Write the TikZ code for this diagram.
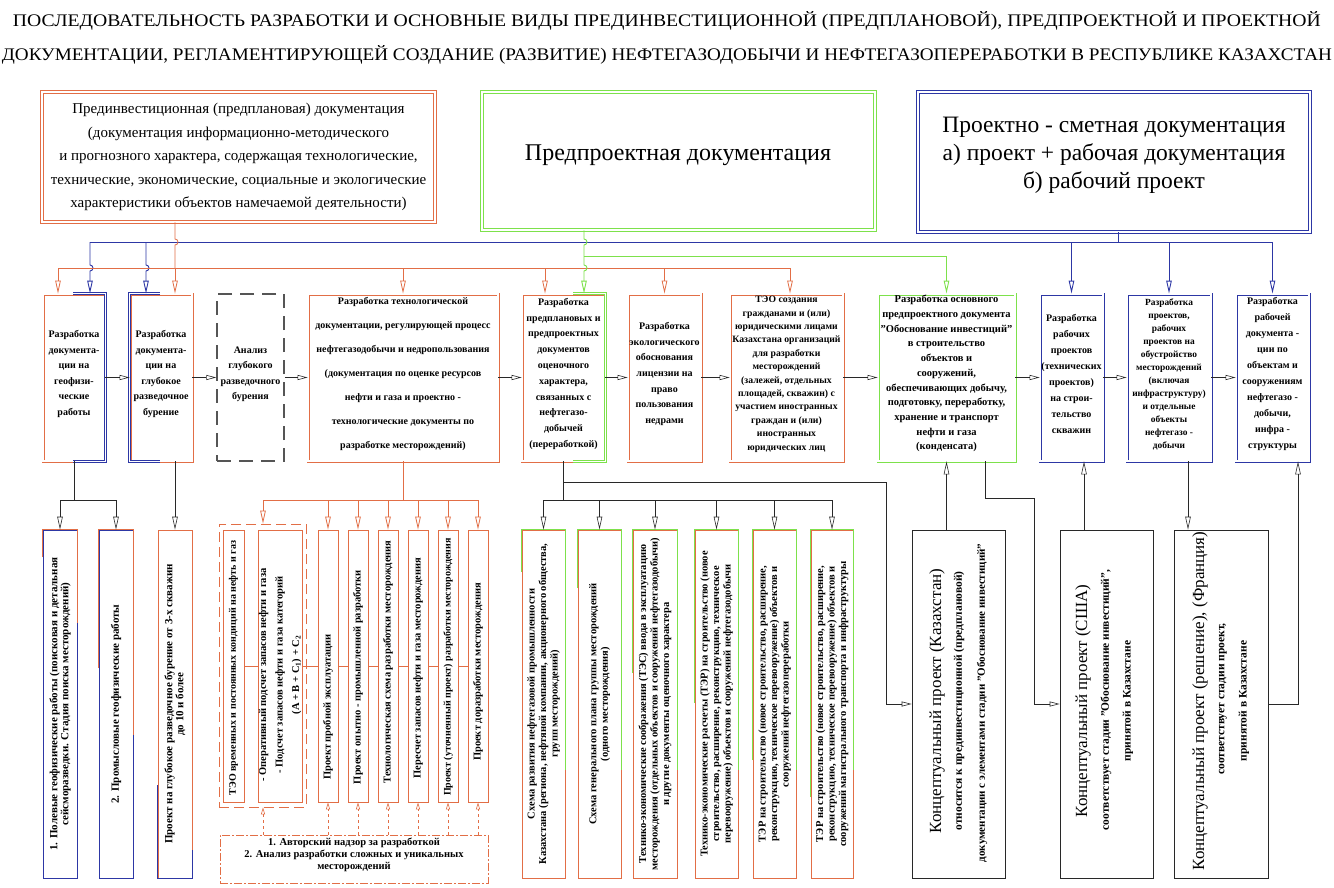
\documentclass[tikz,border=0pt]{standalone}
\usepackage{graphicx}
\usepackage{fontspec}
\setmainfont{Liberation Serif}
\usetikzlibrary{arrows.meta,fit,calc}
\definecolor{cor}{RGB}{226,110,70}
\definecolor{cbl}{RGB}{45,55,165}
\definecolor{cgr}{RGB}{125,225,75}
\definecolor{cgy}{RGB}{85,85,85}
\definecolor{cln}{RGB}{40,40,40}
\begin{document}
\begin{tikzpicture}[x=1pt,y=-1pt,
 dbl/.style={draw=#1, double=white, double distance=1.4pt, line width=0.8pt},
 bigdbl/.style={draw=#1, double=white, double distance=2.2pt, line width=0.8pt},
 rowbox/.style={inner sep=0pt, fill=white, align=center, font=\fontsize{10}{#1}\selectfont\bfseries},
 rowbox/.default=15,
 thinbox/.style={draw=#1, line width=0.7pt, inner sep=0pt, fill=white},
 vtxt/.style={rotate=90, align=center, font=\fontsize{10.5}{#1}\selectfont\bfseries, inner sep=0pt},
 vtxt/.default=12,
 ctxt/.style={rotate=90, align=center, font=\fontsize{10}{12}\selectfont\bfseries, inner sep=0pt},
 btxt/.style={rotate=90, align=center, font=\fontsize{11}{11}\selectfont\bfseries, inner sep=0pt},
 dtxt/.style={rotate=90, align=center, font=\fontsize{10.5}{11.5}\selectfont\bfseries, inner sep=0pt},
 htxt/.style={align=center, inner sep=0pt},
 tip/.style={-{Triangle[open,length=13pt,width=5.5pt]}},
 tips/.style={-{Triangle[open,length=10pt,width=5pt]}},
 tipx/.style={-{Triangle[open,length=7pt,width=4pt]}},
 conn/.style={draw=cln, line width=0.6pt},
 ocon/.style={draw=cor, line width=0.8pt},
 bcon/.style={draw=cbl, line width=0.9pt},
 gcon/.style={draw=cgr, line width=0.9pt},
 bigtx/.style={rotate=90, inner sep=0pt, font=\fontsize{17}{20}\selectfont},
 smtx/.style={rotate=90, inner sep=0pt, font=\fontsize{11.5}{13}\selectfont\bfseries},
]
\fill[white] (0,0) rectangle (1334,888);
\useasboundingbox (0,0) rectangle (1334,888);

% ---------- title
\node[htxt] (t1) at (667,21) {\resizebox{1308pt}{15pt}{ПОСЛЕДОВАТЕЛЬНОСТЬ РАЗРАБОТКИ И ОСНОВНЫЕ ВИДЫ ПРЕДИНВЕСТИЦИОННОЙ (ПРЕДПЛАНОВОЙ), ПРЕДПРОЕКТНОЙ И ПРОЕКТНОЙ}};
\node[htxt] (t2) at (667,55) {\resizebox{1330pt}{15pt}{ДОКУМЕНТАЦИИ, РЕГЛАМЕНТИРУЮЩЕЙ СОЗДАНИЕ (РАЗВИТИЕ) НЕФТЕГАЗОДОБЫЧИ И НЕФТЕГАЗОПЕРЕРАБОТКИ В РЕСПУБЛИКЕ КАЗАХСТАН}};

% ---------- top boxes
\node[bigdbl=cor, inner sep=0pt, fit={(42,92)(435,222)}] (A) {};
\node[htxt, font=\fontsize{15}{23.5}\selectfont] (Atx) at (A.center) {Прединвестиционная (предплановая) документация\\(документация информационно-методического\\и прогнозного характера, содержащая технологические,\\технические, экономические, социальные и экологические\\характеристики объектов намечаемой деятельности)};
\node[bigdbl=cgr, inner sep=0pt, fit={(482,92)(875,230)}] (G) {};
\node[htxt, font=\fontsize{24}{28}\selectfont] (Gtx) at (678,155) {Предпроектная документация};
\node[bigdbl=cbl, inner sep=0pt, fit={(918,92)(1310,232)}] (Bl) {};
\node[htxt, font=\fontsize{23.5}{28}\selectfont] (Bltx) at (1114,155) {Проектно - сметная документация\\а) проект + рабочая документация\\б) рабочий проект};

% ---------- row boxes
\node[rowbox=15.5, dbl=cor, fit={(43,294)(105,461)}] (r1) {Разработка\\документа-\\ции на\\геофизи-\\ческие\\работы};
\draw[dbl=cbl] (73,0 |- r1.north) -- (r1.north east) -- (r1.south east) -- (73,0 |- r1.south);
\node[rowbox=15.5, dbl=cor, fit={(130,294)(192,461)}] (r2) {Разработка\\документа-\\ции на\\глубокое\\разведочное\\бурение};
\draw[dbl=cbl] (160,0 |- r2.north) -- (r2.north west) -- (r2.south west) -- (160,0 |- r2.south);
\node[rowbox=15.3, draw=cgy, line width=1.5pt, dash pattern=on 14pt off 8pt, fit={(217,294)(284,461)}] (r3) {Анализ\\глубокого\\разведочного\\бурения};
\node[rowbox=24, dbl=cor, fit={(308,294)(498,461)}] (r4) {Разработка технологической\\документации, регулирующей процесс\\нефтегазодобычи и недропользования\\(документация по оценке ресурсов\\нефти и газа и проектно -\\технологические документы по\\разработке месторождений)};
\node[rowbox=15.8, dbl=cor, fit={(522,294)(605,461)}] (r5) {Разработка\\предплановых и\\предпроектных\\документов\\оценочного\\характера,\\связанных с\\нефтегазо-\\добычей\\(переработкой)};
\draw[dbl=cgr] (573,0 |- r5.north) -- (r5.north east) -- (r5.south east) -- (573,0 |- r5.south);
\node[rowbox=15.7, dbl=cor, fit={(628,294)(701,461)}] (r6) {Разработка\\экологического\\обоснования\\лицензии на\\право\\пользования\\недрами};
\node[rowbox=13.4, dbl=cor, font=\fontsize{9.7}{13.4}\selectfont\bfseries, fit={(730,294)(843,461)}] (r7) {ТЭО создания\\гражданами и (или)\\юридическими лицами\\Казахстана организаций\\для разработки\\месторождений\\(залежей, отдельных\\площадей, скважин) с\\участием иностранных\\граждан и (или)\\иностранных\\юридических лиц};
\node[rowbox=14.7, dbl=cgr, font=\fontsize{10.5}{14.7}\selectfont\bfseries, fit={(878,294)(1015,461)}] (r8) {Разработка основного\\предпроектного документа\\"Обоснование инвестиций"\\в строительство\\объектов и\\сооружений,\\обеспечивающих добычу,\\подготовку, переработку,\\хранение и транспорт\\нефти и газа\\(конденсата)};
\node[rowbox=16, dbl=cbl, fit={(1040,294)(1103,461)}] (r9) {Разработка\\рабочих\\проектов\\(технических\\проектов)\\на строи-\\тельство\\скважин};
\node[rowbox=13, dbl=cbl, font=\fontsize{9.4}{13}\selectfont\bfseries, fit={(1127,294)(1211,461)}] (r10) {Разработка\\проектов,\\рабочих\\проектов на\\обустройство\\месторождений\\(включая\\инфраструктуру)\\и отдельные\\объекты\\нефтегазо -\\добычи};
\node[rowbox=16, dbl=cbl, fit={(1236,294)(1309,461)}] (r11) {Разработка\\рабочей\\документа -\\ции по\\объектам и\\сооружениям\\нефтегазо -\\добычи,\\инфра -\\структуры};

\foreach \a/\b in {r1/r2,r2/r3,r3/r4,r4/r5,r5/r6,r6/r7,r7/r8,r8/r9,r9/r10,r10/r11}
  \draw[conn, tips] (\a.east) -- (\b.west);

% ---------- top connectors
% blue
\draw[bcon] (Bl.south -| 1118,0) -- (1118,242);
\draw[bcon] (90,242) -- (r11.north |- 0,242);
\draw[bcon, tip] (90,242) -- (90,265) arc[start angle=90,end angle=-90,radius=3pt] -- (90,0 |- r1.north);
\draw[bcon, tip] (146,242) -- (146,265) arc[start angle=90,end angle=-90,radius=3pt] -- (146,0 |- r2.north);
\draw[bcon, tip] (r9.north |- 0,242) -- (r9.north);
\draw[bcon, tip] (r10.north |- 0,242) -- (r10.north);
\draw[bcon, tip] (r11.north |- 0,242) -- (r11.north);
% orange
\draw[ocon] (A.south -| 175,0) -- (175,239) arc[start angle=90,end angle=-90,radius=3pt] -- (175,268);
\draw[ocon] (58,268) -- (790,268);
\draw[ocon, tip] (58,268) -- (58,0 |- r1.north);
\draw[ocon, tip] (175,268) -- (175,0 |- r2.north);
\draw[ocon, tip] (r4.north |- 0,268) -- (r4.north);
\draw[ocon, tip] (545,268) -- (545,0 |- r5.north);
\draw[ocon, tip] (r6.north |- 0,268) -- (r6.north);
\draw[ocon, tip] (790,268) -- (790,0 |- r7.north);
% green
\draw[gcon] (G.south -| 584,0) -- (584,239) arc[start angle=90,end angle=-90,radius=3pt] -- (584,256);
\draw[gcon] (584,256) -- (r8.north |- 0,256);
\draw[gcon, tip] (584,256) -- (584,265) arc[start angle=90,end angle=-90,radius=3pt] -- (584,0 |- r5.north);
\draw[gcon, tip] (r8.north |- 0,256) -- (r8.north);

% ---------- group b
\node[thinbox=cbl, fit={(43,530)(77,878)}] (b1) {};
\draw[cor, line width=0.7pt] (b1.west |- 0,557) -- (b1.north west) -- (b1.north east) -- (b1.east |- 0,623);
\node[thinbox=cbl, fit={(99,530)(133,878)}] (b2) {};
\draw[cor, line width=0.7pt] (b2.west |- 0,668) -- (b2.north west) -- (b2.north east) -- (b2.east |- 0,735);
\node[thinbox=cor, fit={(158,530)(192,878)}] (b3) {};
\draw[cbl, line width=0.7pt] (b3.west |- 0,785) -- (b3.south west) -- (b3.south east) -- (b3.east |- 0,850);
\node[btxt] (tb1) at (b1.center) {1. Полевые геофизические работы (поисковая и детальная\\сейсморазведки. Стадия поиска месторождений)};
\node[btxt] (tb2) at (b2.center) {2. Промысловые геофизические работы};
\node[btxt] (tb3) at (b3.center) {Проект на глубокое разведочное бурение от 3-х скважин\\до 10 и более};
\draw[conn] (r1.south) -- (r1.south |- 0,500);
\draw[conn] (b1.north |- 0,500) -- (b2.north |- 0,500);
\draw[conn, tip] (b1.north |- 0,500) -- (b1.north);
\draw[conn, tip] (b2.north |- 0,500) -- (b2.north);
\draw[conn, tip] (b3.north |- r2.south) -- (b3.north);

% ---------- group c
\node[draw=cor, line width=0.7pt, dash pattern=on 10pt off 5pt, inner sep=0pt, fit={(219,524)(306,807)}] (cg) {};
\node[thinbox=cor, fit={(223,530)(244,802)}] (c1) {};
\node[thinbox=cor, fit={(258,530)(302,802)}] (c2) {};
\node[thinbox=cor, fit={(318,530)(338,802)}] (c3) {};
\node[thinbox=cor, fit={(348,530)(368,802)}] (c4) {};
\node[thinbox=cor, fit={(378,530)(398,802)}] (c5) {};
\node[thinbox=cor, fit={(408,530)(428,802)}] (c6) {};
\node[thinbox=cor, fit={(438,530)(458,802)}] (c7) {};
\node[thinbox=cor, fit={(468,530)(488,802)}] (c8) {};
\foreach \a/\b in {c1/c2,c2/c3,c3/c4,c4/c5,c5/c6,c6/c7,c7/c8}
  \draw[cor, line width=0.7pt] (\a.east) -- (\b.west);
\node[ctxt] (tc1) at (233.5,668) {ТЭО временных и постоянных кондиций на нефть и газ};
\node[vtxt=16.5] (tc2) at (280,675) {- Оперативный подсчет запасов нефти и газа\\- Подсчет запасов нефти и газа категорий\\(А + В + С\textsubscript{1}) + С\textsubscript{2}};
\node[vtxt] (tc3) at (328,707) {Проект пробной эксплуатации};
\node[vtxt] (tc4) at (358,677) {Проект опытно - промышленной разработки};
\node[vtxt] (tc5) at (388,662) {Технологическая схема разработки месторождения};
\node[vtxt] (tc6) at (418,668) {Пересчет запасов нефти и газа месторождения};
\node[ctxt] (tc7) at (448,667) {Проект (уточненный проект) разработки месторождения};
\node[vtxt] (tc8) at (478,672) {Проект доразработки месторождения};
\node[draw=cor, line width=0.7pt, dash pattern=on 8pt off 2pt on 2pt off 2pt, inner sep=0pt, align=center, font=\fontsize{10.5}{12}\selectfont\bfseries, fit={(220,835)(488,883)}] (f) {1. Авторский надзор за разработкой\\2. Анализ разработки сложных и уникальных\\месторождений};
\draw[ocon] (r4.south) -- (r4.south |- 0,500);
\draw[ocon] (263,500) -- (c8.north |- 0,500);
\draw[ocon, tip] (263,500) -- (263,0 |- cg.north);
\foreach \c in {c3,c4,c5,c6,c7,c8}
  \draw[ocon, tip] (\c.north |- 0,500) -- (\c.north);
\draw[cor, line width=0.6pt, dashed, tipx] (263,0 |- f.north) -- (263,0 |- cg.south);
\foreach \c in {c3,c4,c5,c6,c7,c8}
  \draw[cor, line width=0.6pt, dashed, tipx] (\c.south |- f.north) -- (\c.south);

% ---------- group d
\node[thinbox=cor, fit={(522,530)(565,878)}] (d1) {};
\node[thinbox=cor, fit={(578,530)(621,878)}] (d2) {};
\node[thinbox=cor, fit={(633,530)(677,878)}] (d3) {};
\node[thinbox=cor, fit={(695,530)(738,878)}] (d4) {};
\node[thinbox=cor, fit={(753,530)(796,878)}] (d5) {};
\node[thinbox=cor, fit={(811,530)(853,878)}] (d6) {};
\draw[cgr, line width=0.7pt] (d1.west |- 0,572) -- (d1.north west) -- (d1.north east) -- (d1.east |- 0,770);
\draw[cgr, line width=0.7pt] (d2.west |- 0,588) -- (d2.north west) -- (d2.north east) -- (d2.east |- 0,770);
\draw[cgr, line width=0.7pt] (d3.west |- 0,673) -- (d3.north west) -- (d3.north east) -- (d3.east |- 0,770);
\draw[cgr, line width=0.7pt] (d4.west |- 0,703) -- (d4.north west) -- (d4.north east) -- (d4.east |- 0,770);
\draw[cgr, line width=0.7pt] (d5.west |- 0,760) -- (d5.north west) -- (d5.north east) -- (d5.east |- 0,770);
\draw[cgr, line width=0.7pt] (d6.west |- 0,797) -- (d6.north west) -- (d6.north east) -- (d6.east |- 0,770);
\node[dtxt] (td1) at (d1.center) {Схема развития нефтегазовой промышленности\\Казахстана (региона, нефтяной компании, акционерного общества,\\групп месторождений)};
\node[dtxt] (td2) at (d2.center) {Схема генерального плана группы месторождений\\(одного месторождения)};
\node[dtxt] (td3) at (d3.center) {Технико-экономические соображения (ТЭС) ввода в эксплуатацию\\месторождения (отдельных объектов и сооружений нефтегазодобычи)\\и другие документы оценочного характера};
\node[dtxt] (td4) at (d4.center) {Технико-экономические расчеты (ТЭР) на строительство (новое\\строительство, расширение, реконструкцию, техническое\\перевооружение) объектов и сооружений нефтегазодобычи};
\node[dtxt] (td5) at (d5.center) {ТЭР на строительство (новое строительство, расширение,\\реконструкцию, техническое перевооружение) объектов и\\сооружений нефтегазопереработки};
\node[dtxt] (td6) at (d6.center) {ТЭР на строительство (новое строительство, расширение,\\реконструкцию, техническое перевооружение) объектов и\\сооружений магистрального транспорта и инфраструктуры};
\draw[conn] (r5.south) -- (r5.south |- 0,500);
\draw[conn] (d1.north |- 0,500) -- (d6.north |- 0,500);
\foreach \d in {d1,d2,d3,d4,d5,d6}
  \draw[conn, tip] (\d.north |- 0,500) -- (\d.north);

% ---------- group e
\node[thinbox=cln, fit={(912,530)(1005,878)}] (e1) {};
\node[thinbox=cln, fit={(1060,530)(1153,878)}] (e2) {};
\node[thinbox=cln, fit={(1174,530)(1268,878)}] (e3) {};
\node[bigtx] (te1a) at (937,701) {Концептуальный проект (Казахстан)};
\node[smtx] (te1b) at (959,701) {относится к прединвестиционной (предплановой)};
\node[smtx, font=\fontsize{11}{13}\selectfont\bfseries] (te1c) at (982,703) {документации с элементами стадии "Обоснование инвестиций"};
\node[bigtx] (te2a) at (1083,701) {Концептуальный проект (США)};
\node[smtx] (te2b) at (1106,700) {соответствует стадии "Обоснование инвестиций",};
\node[smtx] (te2c) at (1128,701) {принятой в Казахстане};
\node[bigtx] (te3a) at (1200,701) {Концептуальный проект (решение), (Франция)};
\node[smtx] (te3b) at (1223,699) {соответствует стадии проект,};
\node[smtx] (te3c) at (1244,701) {принятой в Казахстане};
\draw[conn, tips] (r5.south |- 0,482) -- (886,482) |- (e1.west);
\draw[conn, tip] (r8.south |- e1.north) -- (r8.south);
\draw[conn, tips] (985,0 |- r8.south) -- (985,498) -- (1034,498) |- (e2.west);
\draw[conn, tip] (1084,0 |- e2.north) -- (1084,0 |- r9.south);
\draw[conn, tip] (1188,0 |- r10.south) -- (1188,0 |- e3.north);
\draw[conn, tip] (e3.east) -| (1298,0 |- r11.south);
\end{tikzpicture}
\end{document}
